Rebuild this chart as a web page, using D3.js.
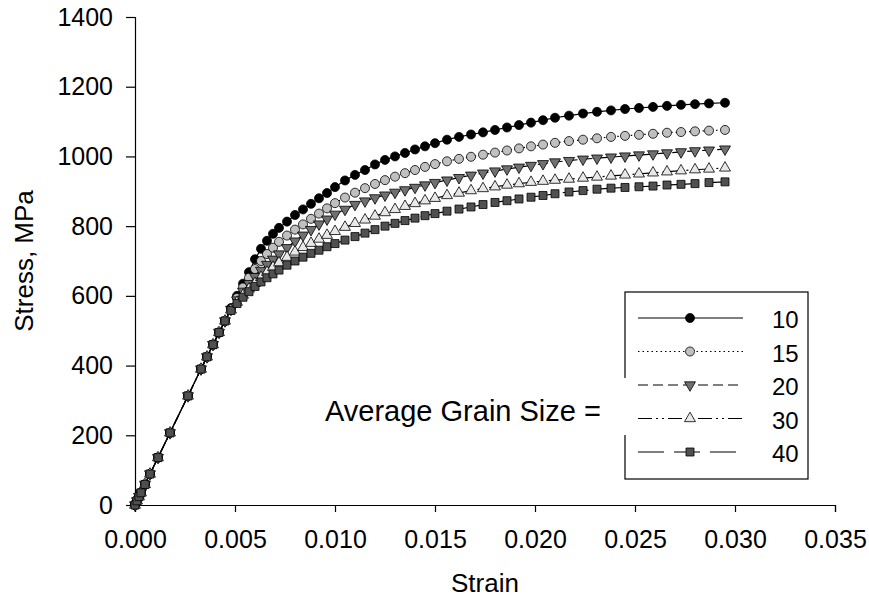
<!DOCTYPE html>
<html>
<head>
<meta charset="utf-8">
<script src="https://cdnjs.cloudflare.com/ajax/libs/d3/7.8.5/d3.min.js"></script>
<style>
  body { margin: 0; background: #fff; }
  svg { display: block; font-family: "Liberation Sans", Arial, sans-serif; }
</style>
</head>
<body>
<svg id="chart" width="869" height="600"></svg>
<script>
// data
var strain = [0, 0.0001, 0.0002, 0.0003, 0.0005, 0.00075, 0.00115, 0.00175, 0.00265, 0.0033,
  0.0036, 0.0039, 0.0042, 0.0045, 0.0048, 0.0051, 0.0054, 0.0057, 0.006, 0.0063,
  0.0066, 0.0069, 0.0072, 0.0076, 0.008, 0.0084, 0.0088, 0.0092, 0.0096, 0.01,
  0.0105, 0.011, 0.0115, 0.012, 0.0125, 0.013, 0.0135, 0.014, 0.0145, 0.015,
  0.0156, 0.0162, 0.0168, 0.0174, 0.018, 0.0186, 0.0192, 0.0198, 0.0204, 0.021,
  0.0217, 0.0224, 0.0231, 0.0238, 0.0245, 0.0252, 0.0259, 0.0266, 0.0273, 0.028,
  0.0287, 0.0295];

var stress10 = [0, 12, 24, 35, 59, 89, 136, 207, 313, 390, 425, 460, 495, 528,
  565, 600, 635, 668, 705, 735, 758, 778, 795, 813, 832, 848, 864, 880, 895, 912,
  931, 947, 961, 977, 990, 1000, 1010, 1020, 1029, 1038, 1048, 1056, 1063, 1069, 1076,
  1083, 1090, 1097, 1104, 1111, 1117, 1123, 1128, 1132, 1136, 1139, 1142, 1145, 1148,
  1150, 1152, 1154];

var stress15 = [0, 12, 24, 35, 59, 89, 136, 207, 313, 390, 425, 460, 495, 528,
  562, 594, 624, 652, 677, 700, 720, 738, 755, 773, 790, 805, 821, 836, 851, 866,
  882, 896, 909, 921, 932, 942, 952, 961, 970, 978, 986, 993, 999, 1005, 1011,
  1017, 1023, 1029, 1034, 1039, 1044, 1048, 1052, 1056, 1059, 1062, 1065, 1068, 1070,
  1072, 1074, 1076];

var stress20 = [0, 12, 24, 35, 59, 89, 136, 207, 313, 390, 425, 460, 495, 528,
  561, 588, 613, 635, 655, 673, 690, 705, 720, 738, 757, 774, 790, 806, 820, 834,
  848, 862, 872, 881, 889, 897, 904, 911, 918, 925, 932, 939, 946, 952, 958,
  964, 969, 974, 979, 984, 988, 992, 995, 998, 1001, 1004, 1007, 1010, 1013,
  1016, 1018, 1021];

var stress30 = [0, 12, 24, 35, 59, 89, 136, 207, 313, 390, 425, 460, 495, 528,
  560, 582, 602, 620, 636, 653, 668, 682, 695, 711, 726, 739, 751, 763, 774, 785,
  797, 808, 818, 829, 839, 848, 857, 865, 873, 880, 888, 895, 902, 908, 913,
  918, 922, 926, 929, 932, 935, 938, 941, 944, 947, 950, 953, 956, 959,
  962, 964, 967];

var stress40 = [0, 12, 24, 35, 59, 89, 136, 207, 313, 390, 425, 460, 495, 528,
  558, 578, 596, 612, 627, 640, 652, 663, 674, 688, 700, 711, 722, 731, 741, 750,
  760, 770, 780, 790, 800, 808, 816, 823, 830, 836, 843, 849, 855, 862, 868,
  873, 878, 883, 888, 893, 898, 902, 906, 909, 911, 913, 915, 918, 920,
  922, 925, 927];

var grainSizes = ["10", "15", "20", "30", "40"];
var stressSets = [stress10, stress15, stress20, stress30, stress40];
var xTicks = [0, 0.005, 0.01, 0.015, 0.02, 0.025, 0.03, 0.035];
var yTicks = [0, 200, 400, 600, 800, 1000, 1200, 1400];

// how each series looks
var looks = [
  {shape: d3.symbolCircle, size: 64, rotate: 0, fill: "#000000", dash: null},
  {shape: d3.symbolCircle, size: 64, rotate: 0, fill: "#c0c0c0", dash: "1.5,3"},
  {shape: d3.symbolTriangle, size: 52, rotate: 180, fill: "#707070", dash: "10,5"},
  {shape: d3.symbolTriangle, size: 52, rotate: 0, fill: "#e8e8e8", dash: "14,4,2,4,2,4"},
  {shape: d3.symbolSquare, size: 64, rotate: 0, fill: "#505050", dash: "26,10"}
];

var svg = d3.select("#chart"),
    margin = {top: 17, right: 34, bottom: 95, left: 135},
    width = +svg.attr("width") - margin.left - margin.right,
    height = +svg.attr("height") - margin.top - margin.bottom,
    g = svg.append("g").attr("transform", "translate(" + margin.left + "," + margin.top + ")");

var x = d3.scaleLinear().domain([0, 0.035]).range([0, width]);
var y = d3.scaleLinear().domain([0, 1400]).range([height, 0]);

var xAxis = d3.axisBottom(x).tickValues(xTicks).tickFormat(d3.format(".3f"))
    .tickSize(7).tickPadding(18);
var yAxis = d3.axisLeft(y).tickValues(yTicks).tickFormat(d3.format("d"))
    .tickSize(9).tickPadding(13);

g.append("g")
    .attr("transform", "translate(0," + height + ")")
    .call(customXAxis);

g.append("g")
    .call(customYAxis);

function customXAxis(a) {
  a.call(xAxis);
  a.select(".domain").attr("stroke", "#000").attr("stroke-width", 1.2);
  a.selectAll(".tick line").attr("stroke", "#000").attr("stroke-width", 1.2);
  a.selectAll(".tick text").attr("fill", "#000").attr("font-size", 25)
      .attr("font-family", "Liberation Sans, Arial, sans-serif");
}

function customYAxis(a) {
  a.call(yAxis);
  a.select(".domain").attr("stroke", "#000").attr("stroke-width", 1.2);
  a.selectAll(".tick line").attr("stroke", "#000").attr("stroke-width", 1.2);
  a.selectAll(".tick text").attr("fill", "#000").attr("font-size", 25)
      .attr("font-family", "Liberation Sans, Arial, sans-serif");
}

// axis titles
svg.append("text")
    .attr("x", margin.left + width / 2)
    .attr("y", 592)
    .attr("text-anchor", "middle")
    .attr("font-size", 26)
    .text("Strain");

svg.append("text")
    .attr("transform", "translate(33," + (margin.top + height / 2) + ") rotate(-90)")
    .attr("text-anchor", "middle")
    .attr("font-size", 26)
    .text("Stress, MPa");

// lines and markers, one series at a time
var line = d3.line()
    .x(function(d) { return x(d[0]); })
    .y(function(d) { return y(d[1]); });

stressSets.forEach(function(set, i) {
  var pts = strain.map(function(s, k) { return [s, set[k]]; });
  var look = looks[i];
  g.append("path")
      .datum(pts)
      .attr("fill", "none")
      .attr("stroke", "#000")
      .attr("stroke-width", 1.2)
      .attr("stroke-dasharray", look.dash)
      .attr("d", line);
  g.selectAll(".m" + i)
      .data(pts)
      .enter().append("path")
      .attr("class", "m" + i)
      .attr("d", d3.symbol().type(look.shape).size(look.size))
      .attr("transform", function(d) {
        return "translate(" + x(d[0]) + "," + y(d[1]) + ") rotate(" + look.rotate + ")";
      })
      .attr("fill", look.fill)
      .attr("stroke", "#000")
      .attr("stroke-width", 0.8);
});

// legend
var legend = svg.append("g").attr("transform", "translate(625,292)");
legend.append("rect")
    .attr("width", 183)
    .attr("height", 187)
    .attr("fill", "#fff")
    .attr("stroke", "#000")
    .attr("stroke-width", 1.2);

grainSizes.forEach(function(lab, i) {
  var look = looks[i];
  var row = legend.append("g").attr("transform", "translate(0," + (26 + i * 33.5) + ")");
  row.append("line")
      .attr("x1", 13).attr("x2", 118)
      .attr("stroke", "#000")
      .attr("stroke-width", 1.2)
      .attr("stroke-dasharray", look.dash);
  row.append("path")
      .attr("d", d3.symbol().type(look.shape).size(look.size))
      .attr("transform", "translate(65,0) rotate(" + look.rotate + ")")
      .attr("fill", look.fill)
      .attr("stroke", "#000")
      .attr("stroke-width", 0.8);
  row.append("text")
      .attr("x", 147)
      .attr("y", 10)
      .attr("font-size", 24)
      .text(lab);
});

// label box that sits over the legend edge
svg.append("rect")
    .attr("x", 318).attr("y", 378)
    .attr("width", 312).attr("height", 57)
    .attr("fill", "#fff");
svg.append("text")
    .attr("x", 325)
    .attr("y", 421)
    .attr("font-size", 29)
    .text("Average Grain Size =");
</script>
</body>
</html>
